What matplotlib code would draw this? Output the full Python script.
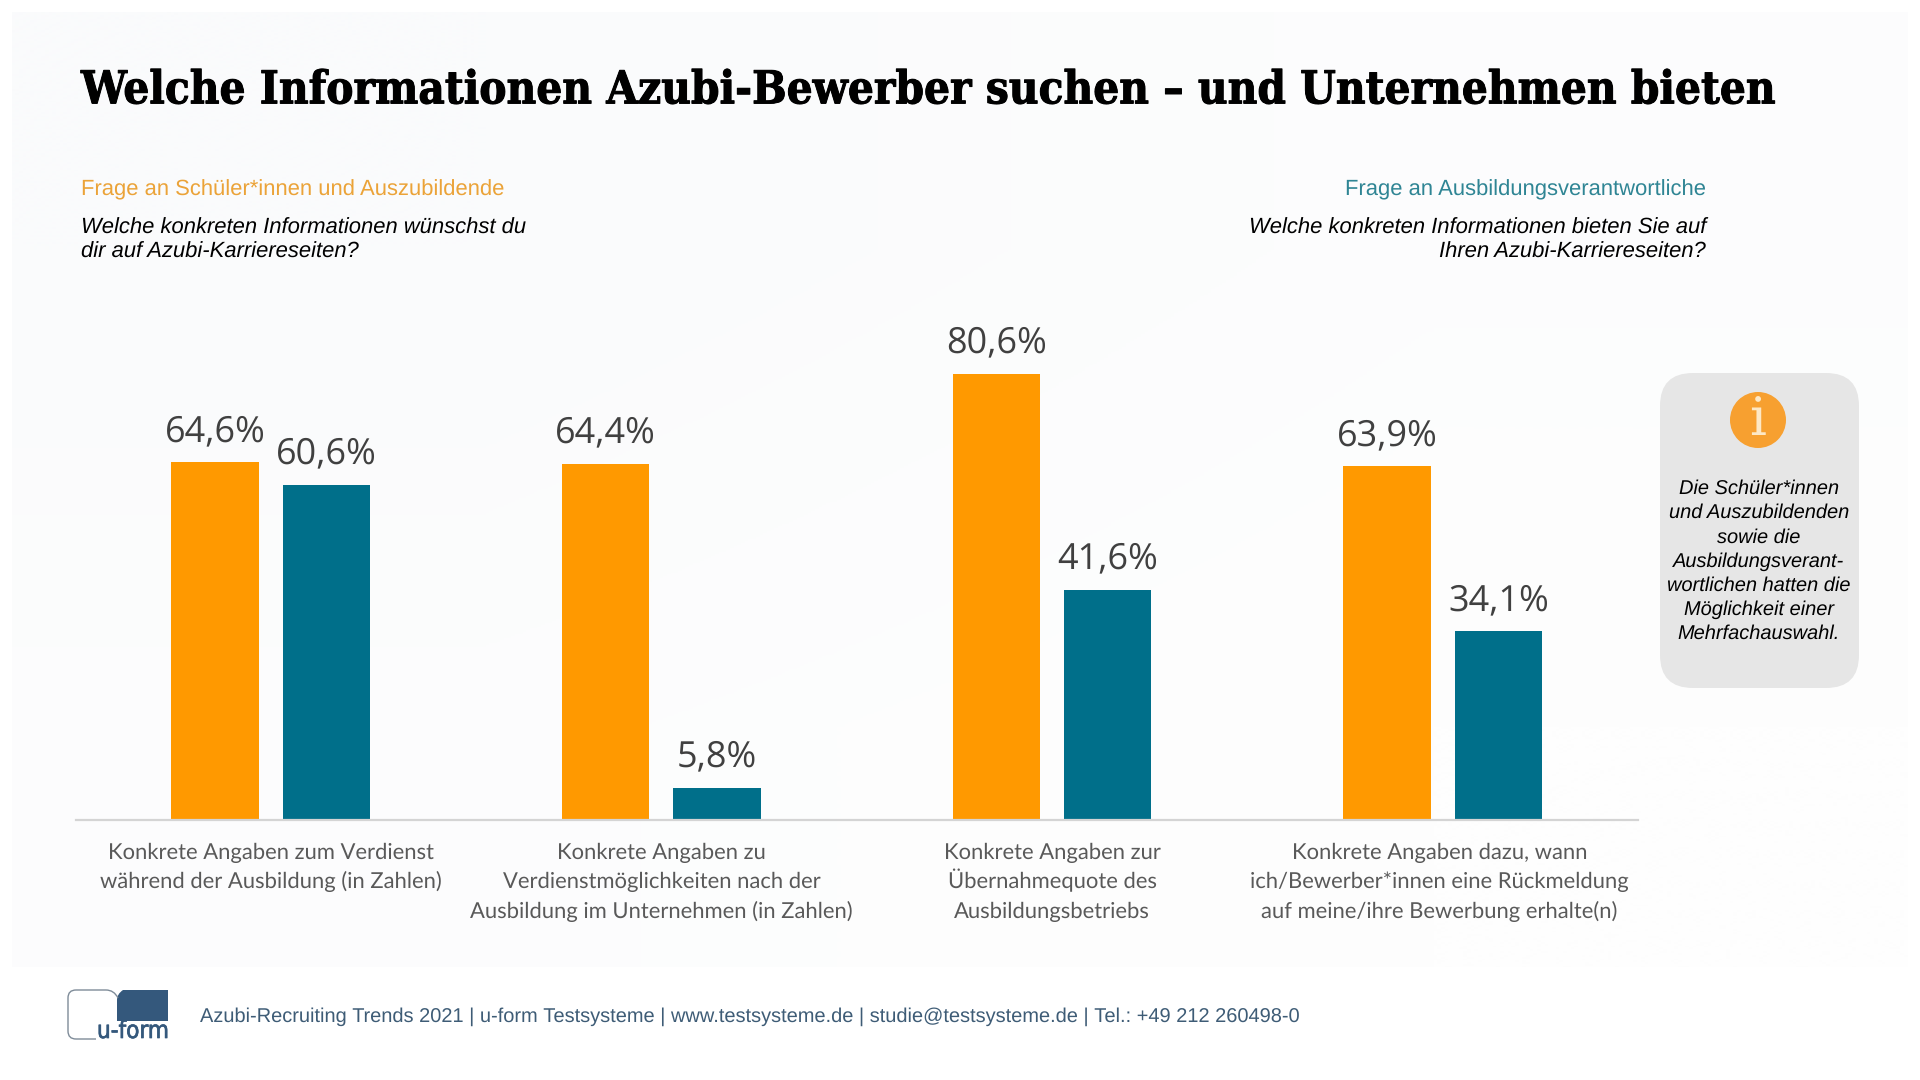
import matplotlib
matplotlib.use("Agg")
import matplotlib.pyplot as plt
import matplotlib.patheffects as pe
import numpy as np
from matplotlib.patches import FancyBboxPatch, Circle, PathPatch
from matplotlib.path import Path

plt.rcParams["text.hinting"] = "no_hinting"
plt.rcParams["text.hinting_factor"] = 1

categories = [
    "Konkrete Angaben zum Verdienst\nwährend der Ausbildung (in Zahlen)",
    "Konkrete Angaben zu\nVerdienstmöglichkeiten nach der\nAusbildung im Unternehmen (in Zahlen)",
    "Konkrete Angaben zur\nÜbernahmequote des\nAusbildungsbetriebs",
    "Konkrete Angaben dazu, wann\nich/Bewerber*innen eine Rückmeldung\nauf meine/ihre Bewerbung erhalte(n)",
]
schueler = [64.6, 64.4, 80.6, 63.9]
verantwortliche = [60.6, 5.8, 41.6, 34.1]
info_lines = ["Die Schüler*innen", "und Auszubildenden", "sowie die", "Ausbildungsverant-",
              "wortlichen hatten die", "Möglichkeit einer", "Mehrfachauswahl."]

ORANGE = "#ff9900"
TEAL = "#006f8a"
W, H = 1920, 1080
fig = plt.figure(figsize=(W / 100, H / 100), dpi=100, facecolor="white")

bg = fig.add_axes([0, 0, 1, 1], zorder=0)
bg.set_xlim(0, W); bg.set_ylim(H, 0); bg.axis("off")
grad = np.array([[0.0, 0.6], [0.6, 1.0]])
c0 = np.array([0xfa, 0xfb, 0xfc]) / 255
c1 = np.array([0xfe, 0xfe, 0xfe]) / 255
img = c0[None, None, :] * (1 - grad[..., None]) + c1[None, None, :] * grad[..., None]
bg.imshow(img, extent=(12, 1908, 967, 12), interpolation="bilinear", aspect="auto", zorder=0)
bg.set_xlim(0, W); bg.set_ylim(H, 0)

renderer = fig.canvas.get_renderer()
def fit(txt, width, **kw):
    t = fig.text(0, 0, txt, fontsize=20, **kw)
    w = t.get_window_extent(renderer).width
    t.remove()
    return 20 * width / w

SANS = "Liberation Sans"
LATO = "Lato"

# title
title = "Welche Informationen Azubi-Bewerber suchen – und Unternehmen bieten"
fs = fit(title, 1709, family="DejaVu Serif", weight="bold", stretch="condensed")
bg.text(81, 91, title, family="DejaVu Serif", weight="bold", stretch="condensed",
        fontsize=fs, color="#000000", va="center", ha="left",
        path_effects=[pe.withStroke(linewidth=0.7, foreground="black")])

# question headers
fs = fit("Frage an Schüler*innen und Auszubildende", 424, family=SANS)
bg.text(81, 190, "Frage an Schüler*innen und Auszubildende", family=SANS, fontsize=fs,
        color="#eba338", va="center")
bg.text(1706, 190, "Frage an Ausbildungsverantwortliche", family=SANS, fontsize=fs,
        color="#2f8594", va="center", ha="right")
fs = fit("Welche konkreten Informationen wünschst du", 444.5, family=SANS, style="italic")
for y, a, b in [(228.2, "Welche konkreten Informationen wünschst du", "Welche konkreten Informationen bieten Sie auf"),
                (251.7, "dir auf Azubi-Karriereseiten?", "Ihren Azubi-Karriereseiten?")]:
    bg.text(81, y, a, family=SANS, style="italic", fontsize=fs, color="black", va="center")
    bg.text(1706, y, b, family=SANS, style="italic", fontsize=fs, color="black", va="center", ha="right")

# chart
left, right, base = 75.5, 1638, 820
px_per_pct = 5.535
ymax = 90
top = base - ymax * px_per_pct
ax = fig.add_axes([left / W, 1 - base / H, (right - left) / W, (base - top) / H], zorder=2)
ax.patch.set_alpha(0)
x = np.arange(len(categories))
bw, off = 0.2235, 0.1425
b1 = ax.bar(x - off, schueler, bw, color=ORANGE)
b2 = ax.bar(x + off, verantwortliche, bw, color=TEAL)
ax.set_xlim(-0.5, 3.5); ax.set_ylim(0, ymax)
ax.set_yticks([])
for s in ["top", "left", "right"]:
    ax.spines[s].set_visible(False)
ax.spines["bottom"].set_color("#d4d4d4"); ax.spines["bottom"].set_linewidth(1.6)
ax.set_xticks(x)
ax.set_xticklabels([])
ax.tick_params(axis="x", length=0)
fs_cat = fit("Ausbildung im Unternehmen (in Zahlen)", 393.5, family=LATO)
for xi, label, dx in zip(x, categories, [0, 0, 0, -2.2]):
    for j, line in enumerate(label.split("\n")):
        ax.annotate(line, (xi, 0), xytext=(dx, -28 - 21.2 * j), textcoords="offset points",
                    ha="center", va="baseline", family=LATO, fontsize=fs_cat, color="#595959",
                    annotation_clip=False)
fs_val = fit("64,6%", 100.5, family="Open Sans")
for bars, vals in [(b1, schueler), (b2, verantwortliche)]:
    for r, v in zip(bars, vals):
        ax.annotate(f"{v:.1f}%".replace(".", ","), (r.get_x() + r.get_width() / 2, v),
                    xytext=(0, 22), textcoords="offset points", ha="center", va="center",
                    family="Open Sans", fontsize=fs_val, color="#404040")

# info box
bg.add_patch(FancyBboxPatch((1660 + 33, 373 + 33), 199 - 66, 315 - 66,
                            boxstyle="round,pad=33,rounding_size=33", fc="#e6e6e6", ec="none", zorder=1))
bg.add_patch(Circle((1758, 420), 28, fc="#f7a030", ec="none", zorder=2))
bg.text(1758, 420, "i", family="DejaVu Serif", fontsize=38, color="#fde8c6",
        ha="center", va="center", zorder=3)
fs = fit("wortlichen hatten die", 181, family=SANS, style="italic")
for i, l in enumerate(info_lines):
    bg.text(1759, 489 + 24.1 * i, l, family=SANS, style="italic", fontsize=fs, color="black",
            ha="center", va="center", zorder=3)

# footer
foot = "Azubi-Recruiting Trends 2021 | u-form Testsysteme | www.testsysteme.de | studie@testsysteme.de | Tel.: +49 212 260498-0"
fs = fit(foot, 1100, family=SANS)
bg.text(200, 1017, foot, family=SANS, fontsize=fs, color="#3e5c76", va="center")

# logo
verts = [(117, 1021), (117, 1000), (117, 994), (123, 990), (129, 990), (168, 990), (168, 1021), (117, 1021)]
codes = [Path.MOVETO, Path.LINETO, Path.CURVE3, Path.CURVE3, Path.LINETO, Path.LINETO, Path.LINETO, Path.CLOSEPOLY]
bg.add_patch(PathPatch(Path(verts, codes), fc="#34587c", ec="none", zorder=2))
verts = [(96, 1039), (76, 1039), (68, 1039), (68, 1031), (68, 998), (68, 990), (76, 990), (106, 990),
         (114, 990), (118, 998)]
codes = [Path.MOVETO, Path.LINETO, Path.CURVE3, Path.CURVE3, Path.LINETO, Path.CURVE3, Path.CURVE3,
         Path.LINETO, Path.CURVE3, Path.CURVE3]
bg.add_patch(PathPatch(Path(verts, codes), fc="none", ec="#7f8c99", lw=1.0, zorder=2))
fs = fit("u-form", 73, family="DejaVu Sans", stretch="condensed")
bg.text(97, 1038, "u-form", family="DejaVu Sans", stretch="condensed", fontsize=fs,
        color="#34587c", va="baseline", ha="left", zorder=3,
        path_effects=[pe.withStroke(linewidth=0.5, foreground="#34587c")])

fig.savefig("out.png", dpi=100, facecolor="white")
